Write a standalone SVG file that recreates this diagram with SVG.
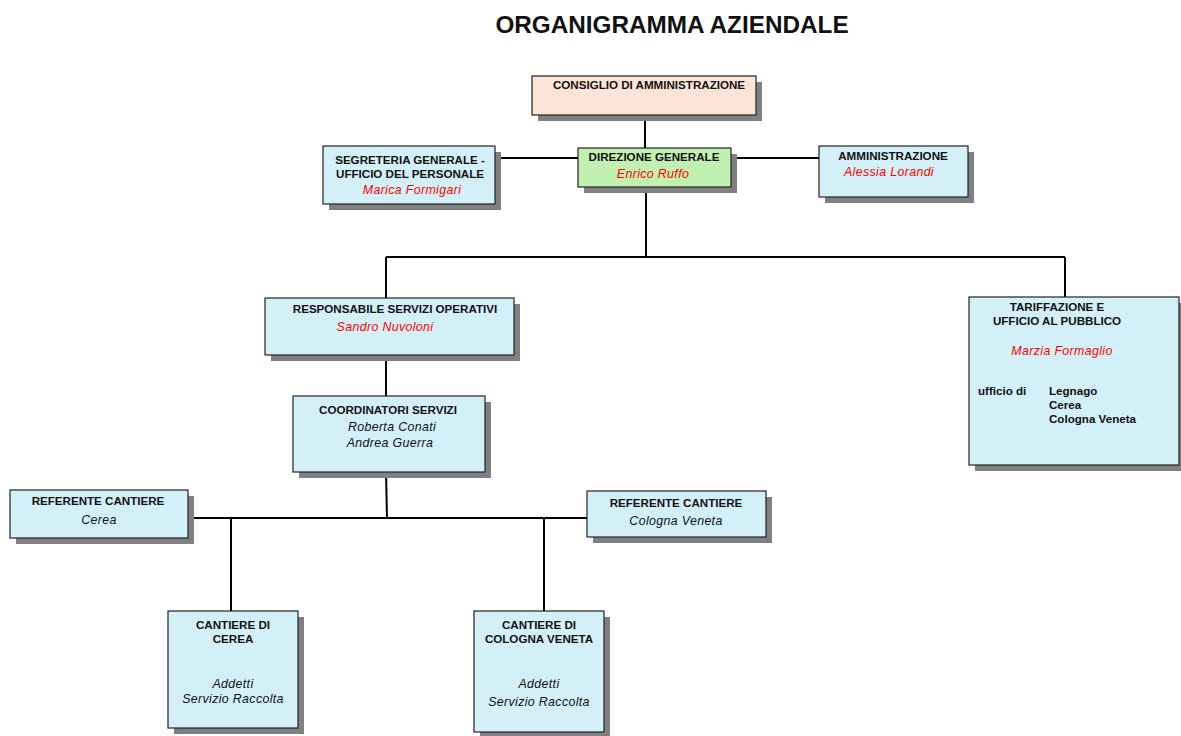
<svg xmlns="http://www.w3.org/2000/svg" width="1181" height="736" viewBox="0 0 1181 736">
<style>
.box{fill:#d3f0f8;stroke:#222;stroke-width:1.2}
.sh{fill:#808080}
.t{font-family:"Liberation Sans",Arial,sans-serif;font-weight:bold;font-size:11.6px;fill:#111}
.n{font-family:"Liberation Sans",Arial,sans-serif;font-style:italic;font-size:12.4px;letter-spacing:0.35px;fill:#111}
.r{fill:#ff0000}
.c{stroke:#000;stroke-width:2;fill:none}
</style>
<rect width="1181" height="736" fill="#fff"/>
<text x="672" y="33" text-anchor="middle" font-family="Liberation Sans,Arial,sans-serif" font-weight="bold" font-size="24.3" fill="#111">ORGANIGRAMMA AZIENDALE</text>
<g id="connectors">
<path class="c" d="M645 115V148M495 158H578M731 158H819M646 187V257M386 257H1065M386 257V298M1065 257V298M386 355V396M386 472L387 518M189 518H587M231 518V611M544 518V611"/>
</g>
<g id="consiglio">
<rect class="sh" x="538" y="82" width="224" height="39"/>
<rect x="532" y="76" width="224" height="39" fill="#fce4d6" stroke="#222" stroke-width="1.2"/>
<text class="t" x="649" y="89" text-anchor="middle">CONSIGLIO DI AMMINISTRAZIONE</text>
</g>
<g id="direzione">
<rect class="sh" x="584" y="154" width="153" height="39"/>
<rect x="578" y="148" width="153" height="39" fill="#c2f0b0" stroke="#222" stroke-width="1.2"/>
<text class="t" x="654" y="161" text-anchor="middle">DIREZIONE GENERALE</text>
<text class="n r" x="653" y="178" text-anchor="middle">Enrico Ruffo</text>
</g>
<g id="segreteria">
<rect class="sh" x="329" y="152" width="172" height="58"/>
<rect class="box" x="323" y="146" width="172" height="58"/>
<text class="t" x="410" y="164" text-anchor="middle">SEGRETERIA GENERALE -</text>
<text class="t" x="410" y="178" text-anchor="middle">UFFICIO DEL PERSONALE</text>
<text class="n r" x="412" y="194" text-anchor="middle">Marica Formigari</text>
</g>
<g id="amministrazione">
<rect class="sh" x="825" y="152" width="149" height="51"/>
<rect class="box" x="819" y="146" width="149" height="51"/>
<text class="t" x="893" y="160" text-anchor="middle">AMMINISTRAZIONE</text>
<text class="n r" x="889" y="176" text-anchor="middle">Alessia Lorandi</text>
</g>
<g id="responsabile">
<rect class="sh" x="271" y="304" width="249" height="57"/>
<rect class="box" x="265" y="298" width="249" height="57"/>
<text class="t" x="395" y="313" text-anchor="middle">RESPONSABILE SERVIZI OPERATIVI</text>
<text class="n r" x="385" y="331" text-anchor="middle">Sandro Nuvoloni</text>
</g>
<g id="coordinatori">
<rect class="sh" x="299" y="402" width="192" height="76"/>
<rect class="box" x="293" y="396" width="192" height="76"/>
<text class="t" x="388" y="414" text-anchor="middle">COORDINATORI SERVIZI</text>
<text class="n" x="392" y="431" text-anchor="middle">Roberta Conati</text>
<text class="n" x="390" y="447" text-anchor="middle">Andrea Guerra</text>
</g>
<g id="tariffazione">
<rect class="sh" x="975" y="303" width="210" height="168"/>
<rect class="box" x="969" y="297" width="210" height="168"/>
<text class="t" x="1057" y="311" text-anchor="middle">TARIFFAZIONE  E</text>
<text class="t" x="1057" y="325" text-anchor="middle">UFFICIO AL PUBBLICO</text>
<text class="n r" x="1062" y="355" text-anchor="middle">Marzia Formaglio</text>
<text class="t" x="978" y="395">ufficio di</text>
<text class="t" x="1049" y="395">Legnago</text>
<text class="t" x="1049" y="409">Cerea</text>
<text class="t" x="1049" y="423">Cologna Veneta</text>
</g>
<g id="referente-cerea">
<rect class="sh" x="16" y="496" width="178" height="48"/>
<rect class="box" x="10" y="490" width="178" height="48"/>
<text class="t" x="98" y="505" text-anchor="middle">REFERENTE CANTIERE</text>
<text class="n" x="99" y="524" text-anchor="middle">Cerea</text>
</g>
<g id="referente-cologna">
<rect class="sh" x="593" y="497" width="179" height="46"/>
<rect class="box" x="587" y="491" width="179" height="46"/>
<text class="t" x="676" y="507" text-anchor="middle">REFERENTE CANTIERE</text>
<text class="n" x="676" y="525" text-anchor="middle">Cologna Veneta</text>
</g>
<g id="cantiere-cerea">
<rect class="sh" x="174" y="617" width="130" height="117"/>
<rect class="box" x="168" y="611" width="130" height="117"/>
<text class="t" x="233" y="629" text-anchor="middle">CANTIERE DI</text>
<text class="t" x="233" y="643" text-anchor="middle">CEREA</text>
<text class="n" x="233" y="688" text-anchor="middle">Addetti</text>
<text class="n" x="233" y="703" text-anchor="middle">Servizio Raccolta</text>
</g>
<g id="cantiere-cologna">
<rect class="sh" x="480" y="617" width="130" height="121"/>
<rect class="box" x="474" y="611" width="130" height="121"/>
<text class="t" x="539" y="629" text-anchor="middle">CANTIERE DI</text>
<text class="t" x="539" y="643" text-anchor="middle">COLOGNA VENETA</text>
<text class="n" x="539" y="688" text-anchor="middle">Addetti</text>
<text class="n" x="539" y="706" text-anchor="middle">Servizio Raccolta</text>
</g>
</svg>
